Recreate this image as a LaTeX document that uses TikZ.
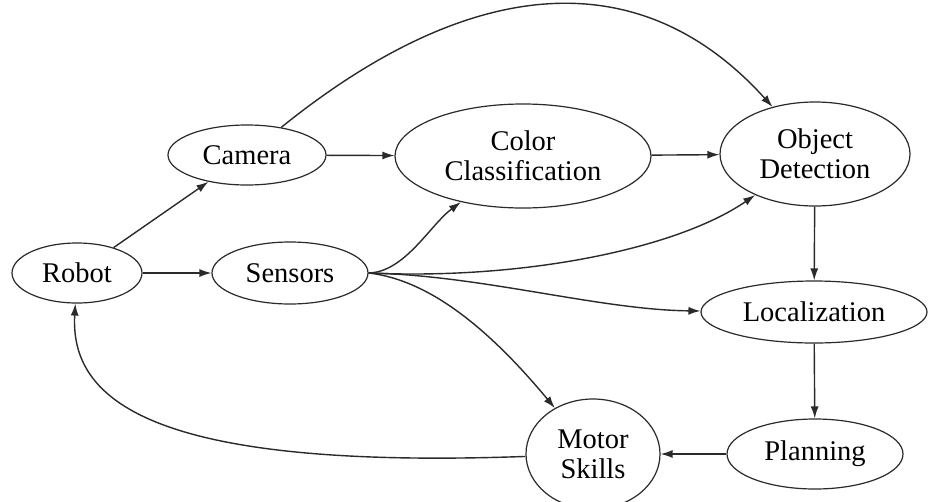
\documentclass[tikz,border=0pt]{standalone}
\usepackage{fontspec}
\setmainfont{Liberation Serif}
\usetikzlibrary{shapes.geometric,arrows.meta}
\definecolor{ink}{HTML}{2A2A2A}
\tikzset{
  state/.style={ellipse,draw=ink,line width=1.2pt,inner sep=0pt,align=center,
    font=\fontsize{28.5}{30}\selectfont,text=black},
  conn/.style={draw=ink,line width=1.4pt,-{Latex[length=12pt,width=8pt]}},
  plainconn/.style={draw=ink,line width=1.4pt}
}
\begin{document}
\begin{tikzpicture}[x=1pt,y=-1pt]
\clip (0,0) rectangle (928,501);
\fill[white] (0,0) rectangle (928,501);

\node[state,minimum width=130pt,minimum height=60pt] (r) at (77,273) {Robot};
\node[state,minimum width=156pt,minimum height=62pt] (s) at (290,273) {Sensors};
\node[state,minimum width=158pt,minimum height=60pt] (cam) at (247,155) {Camera};
\node[state,minimum width=256pt,minimum height=104pt] (cc) at (523,156) {Color\\Classification};
\node[state,minimum width=190pt,minimum height=104pt] (od) at (815,154) {Object\\Detection};
\node[state,minimum width=226pt,minimum height=62pt] (loc) at (814,312) {Localization};
\node[state,minimum width=176pt,minimum height=70pt] (plan) at (815,454) {Planning};
\node[state,minimum width=134pt,minimum height=110pt] (ms) at (593,454) {Motor\\Skills};

\draw[conn] (r) -- (cam);
\draw[conn] (r) -- (s);
\draw[conn] (cam) -- (cc);
\draw[conn] (cc) -- (od);
\draw[conn] (cam) .. controls (470,-25) and (640,-40) .. (od);
\draw[conn] (od) -- (loc);
\draw[conn] (loc) -- (plan);
\draw[conn] (plan) -- (ms);
\draw[conn] (ms) .. controls (150,470) and (70,400) .. (r);

\draw[conn] (s.east) .. controls (405,272) and (430,225) .. (cc);
\draw[conn] (s.east) .. controls (520,280) and (675,250) .. (od);
\draw[conn] (s.east) .. controls (480,275) and (600,310) .. (loc);
\draw[conn] (s.east) .. controls (430,280) and (490,330) .. (ms);
\end{tikzpicture}
\end{document}
